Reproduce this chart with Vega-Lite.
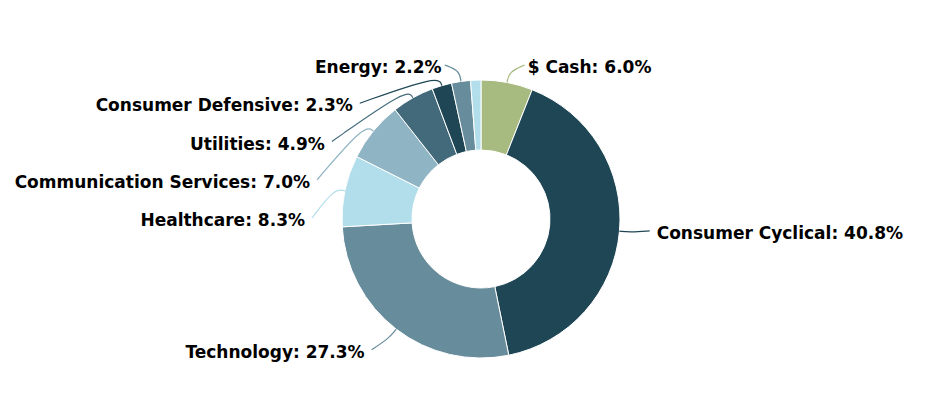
{
  "$schema": "https://vega.github.io/schema/vega-lite/v6.json",
  "width": 906,
  "height": 350,
  "padding": {"left": 28, "top": 44, "right": 0, "bottom": 0},
  "autosize": {"type": "none"},
  "background": "#ffffff",
  "config": {"view": {"stroke": null}},
  "data": {
    "values": [
      {"sector": "$ Cash", "pct": 6.0},
      {"sector": "Consumer Cyclical", "pct": 40.8},
      {"sector": "Technology", "pct": 27.3},
      {"sector": "Healthcare", "pct": 8.3},
      {"sector": "Communication Services", "pct": 7.0},
      {"sector": "Utilities", "pct": 4.9},
      {"sector": "Consumer Defensive", "pct": 2.3},
      {"sector": "Energy", "pct": 2.2},
      {"sector": "Other", "pct": 1.2}
    ]
  },
  "transform": [
    {"window": [{"op": "row_number", "as": "i"}]},
    {"stack": "pct", "groupby": [], "sort": [{"field": "i", "order": "ascending"}], "as": ["s0", "s1"]},
    {"calculate": "PI * (datum.s0 + datum.s1) / 100", "as": "ang"}
  ],
  "layer": [
    {
      "mark": {"type": "arc", "outerRadius": 139, "innerRadius": 69, "stroke": "#ffffff", "strokeWidth": 1},
      "encoding": {
        "theta": {"field": "s0", "type": "quantitative", "scale": {"domain": [0, 100]}},
        "theta2": {"field": "s1"},
        "color": {
          "field": "sector",
          "type": "nominal",
          "scale": {
            "domain": ["$ Cash", "Consumer Cyclical", "Technology", "Healthcare", "Communication Services", "Utilities", "Consumer Defensive", "Energy", "Other"],
            "range": ["#a7ba80", "#1f4655", "#678c9b", "#b2deeb", "#8fb4c3", "#436a7b", "#1f4655", "#678c9b", "#b2deeb"]
          },
          "legend": null
        }
      }
    },
    {
      "transform": [
        {"filter": "datum.sector !== 'Other'"},
        {"calculate": "-169 * cos(datum.ang)", "as": "ny"},
        {"calculate": "sin(datum.ang) >= 0 ? 'R' : 'L'", "as": "side"},
        {"window": [{"op": "row_number", "as": "k"}], "groupby": ["side"], "sort": [{"field": "ny", "order": "ascending"}]},
        {"calculate": "max(datum.ny, -151) - (datum.k - 1) * 38.25", "as": "a"},
        {"window": [{"op": "max", "field": "a", "as": "m"}], "groupby": ["side"], "sort": [{"field": "ny", "order": "ascending"}], "frame": [null, 0]},
        {"calculate": "datum.m + (datum.k - 1) * 38.25", "as": "ly"},
        {"calculate": "datum.ly <= -150.99", "as": "top"},
        {"calculate": "datum.top ? datum.ny : datum.ly - 5", "as": "yy"},
        {"calculate": "sqrt(max(0, 169 * 169 - datum.yy * datum.yy))", "as": "base"},
        {"calculate": "datum.side === 'R' ? 1 : -1", "as": "sgn"},
        {"calculate": "datum.sgn * (datum.base + (datum.top ? 15 : 7))", "as": "tx"},
        {"calculate": "datum.sector + ': ' + format(datum.pct, '.1f') + '%'", "as": "label"}
      ],
      "layer": [
        {
          "transform": [
            {"calculate": "[0, 1, 2]", "as": "pt"},
            {"flatten": ["pt"]},
            {"calculate": "datum.pt === 0 ? datum.sgn * (datum.base + (datum.top ? 12 : 0)) : (datum.pt === 1 ? 150 : 139) * sin(datum.ang)", "as": "px"},
            {"calculate": "datum.pt === 0 ? datum.ly - 3 : -(datum.pt === 1 ? 150 : 139) * cos(datum.ang)", "as": "py"}
          ],
          "mark": {"type": "line", "interpolate": "basis", "strokeWidth": 1.2},
          "encoding": {
            "x": {"field": "px", "type": "quantitative", "scale": {"domain": [-453, 453], "nice": false, "zero": false}, "axis": null},
            "y": {"field": "py", "type": "quantitative", "scale": {"domain": [-175, 175], "reverse": true, "nice": false, "zero": false}, "axis": null},
            "detail": {"field": "sector", "type": "nominal"},
            "order": {"field": "pt", "type": "quantitative"},
            "color": {"field": "sector", "type": "nominal", "legend": null}
          }
        },
        {
          "transform": [{"filter": "datum.side === 'R'"}],
          "mark": {"type": "text", "align": "left", "baseline": "middle", "font": "DejaVu Sans", "fontWeight": "bold", "fontSize": 17, "color": "#000000"},
          "encoding": {
            "x": {"field": "tx", "type": "quantitative"},
            "y": {"field": "ly", "type": "quantitative"},
            "text": {"field": "label", "type": "nominal"}
          }
        },
        {
          "transform": [{"filter": "datum.side === 'L'"}],
          "mark": {"type": "text", "align": "right", "baseline": "middle", "font": "DejaVu Sans", "fontWeight": "bold", "fontSize": 17, "color": "#000000"},
          "encoding": {
            "x": {"field": "tx", "type": "quantitative"},
            "y": {"field": "ly", "type": "quantitative"},
            "text": {"field": "label", "type": "nominal"}
          }
        }
      ]
    }
  ]
}
